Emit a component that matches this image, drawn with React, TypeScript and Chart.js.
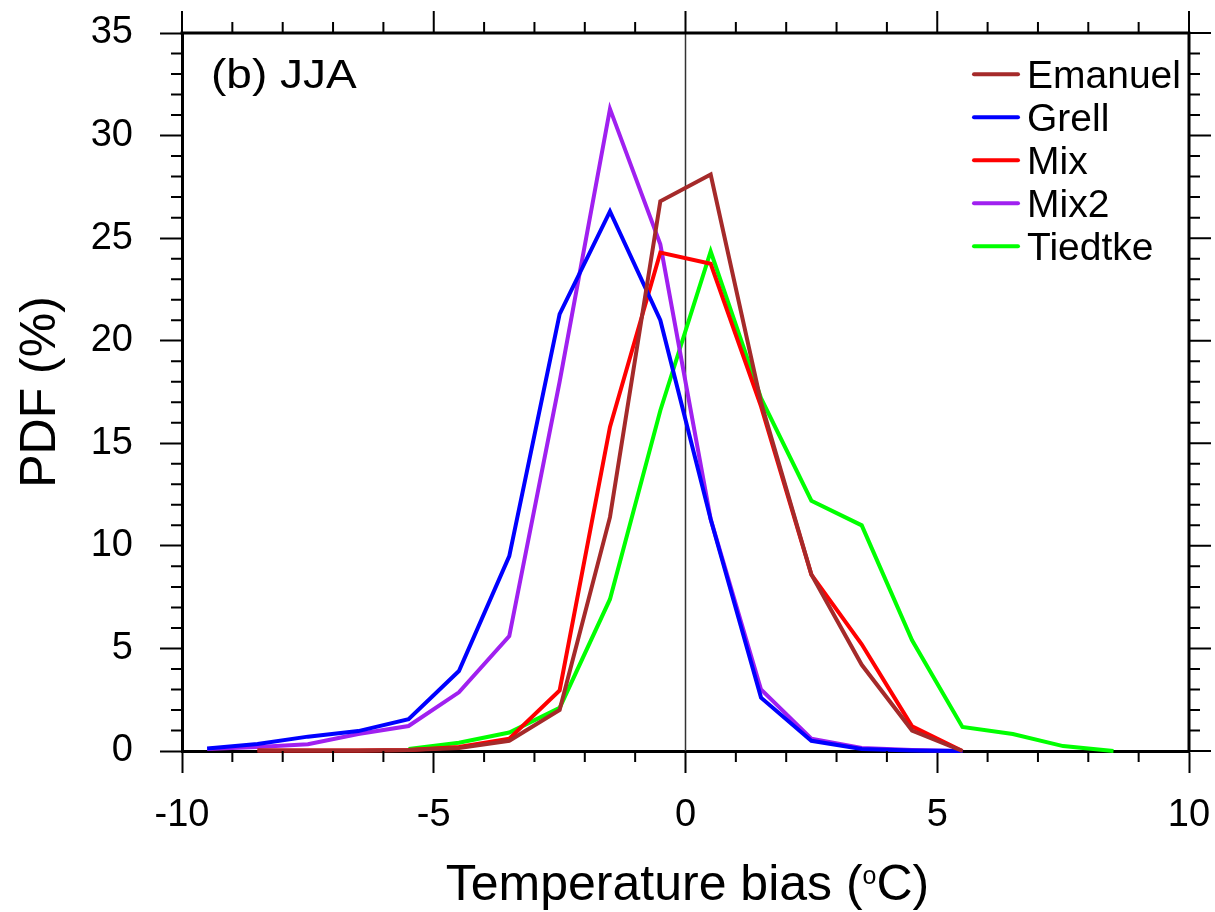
import { useEffect, useRef } from "react";
import { Chart, registerables } from "chart.js";

Chart.register(...registerables);

// ---- data ----
const binCenters = [-9.5, -8.5, -7.5, -6.5, -5.5, -4.5, -3.5, -2.5, -1.5, -0.5, 0.5, 1.5, 2.5, 3.5, 4.5, 5.5, 6.5, 7.5, 8.5];
const seriesNames = ["Emanuel", "Grell", "Mix", "Mix2", "Tiedtke"];
const seriesColors = ["#A52A2A", "#0000FF", "#FF0000", "#A020F0", "#00FF00"];
const emanuel = [null, 0.02, 0.02, 0.03, 0.05, 0.15, 0.5, 2.0, 11.4, 26.8, 28.1, 17.0, 8.6, 4.2, 1.0, 0.0, null, null, null];
const grell = [0.12, 0.34, 0.7, 0.97, 1.55, 3.9, 9.5, 21.3, 26.3, 21.0, 11.3, 2.6, 0.5, 0.1, 0.03, 0.0, null, null, null];
const mix = [null, 0.02, 0.02, 0.03, 0.05, 0.2, 0.6, 2.95, 15.8, 24.3, 23.75, 16.8, 8.6, 5.2, 1.2, 0.0, null, null, null];
const mix2 = [0.1, 0.2, 0.33, 0.83, 1.22, 2.86, 5.6, 18.0, 31.3, 24.7, 11.3, 3.0, 0.6, 0.15, 0.05, 0.0, null, null, null];
const tiedtke = [null, null, null, null, 0.1, 0.4, 0.9, 2.1, 7.4, 16.6, 24.35, 17.2, 12.2, 11.0, 5.4, 1.17, 0.83, 0.24, 0.0];
const xTickValues = [-10, -5, 0, 5, 10];
const yTickValues = [0, 5, 10, 15, 20, 25, 30, 35];
const panelTitle = "(b) JJA";
const xTitleMain = "Temperature bias (";
const xTitleSup = "o";
const xTitleEnd = "C)";
const yTitle = "PDF (%)";
const zeroLineX = 0;

const FONT = '"Liberation Sans", Arial, Helvetica, sans-serif';

const decorPlugin = {
  id: "decor",
  beforeDatasetsDraw(chart: any) {
    const { ctx, chartArea: a, scales } = chart;
    const px = scales.x.getPixelForValue(zeroLineX);
    ctx.save();
    ctx.strokeStyle = "#333";
    ctx.lineWidth = 1.5;
    ctx.beginPath();
    ctx.moveTo(px, a.top);
    ctx.lineTo(px, a.bottom);
    ctx.stroke();
    ctx.restore();
  },
  afterDraw(chart: any) {
    const { ctx, chartArea: a, scales } = chart;
    const xs = scales.x;
    const ys = scales.y;
    ctx.save();
    ctx.strokeStyle = "#000";
    // top and right frame
    ctx.lineWidth = 3;
    ctx.beginPath();
    ctx.moveTo(a.left - 1.5, a.top);
    ctx.lineTo(a.right + 1.5, a.top);
    ctx.moveTo(a.right, a.top - 1.5);
    ctx.lineTo(a.right, a.bottom + 1.5);
    ctx.stroke();
    // ticks
    ctx.lineWidth = 2;
    ctx.beginPath();
    const xmin = xTickValues[0];
    const xmax = xTickValues[xTickValues.length - 1];
    for (let v = xmin; v <= xmax; v++) {
      const p = xs.getPixelForValue(v);
      const major = v % 5 === 0;
      const len = major ? 22 : 11;
      if (!major) {
        ctx.moveTo(p, a.bottom);
        ctx.lineTo(p, a.bottom + len);
      }
      ctx.moveTo(p, a.top);
      ctx.lineTo(p, a.top - len);
    }
    const ymin = yTickValues[0];
    const ymax = yTickValues[yTickValues.length - 1];
    for (let v = ymin; v <= ymax; v++) {
      const p = ys.getPixelForValue(v);
      const major = v % 5 === 0;
      const len = major ? 22 : 11;
      if (!major) {
        ctx.moveTo(a.left, p);
        ctx.lineTo(a.left - len, p);
      }
      ctx.moveTo(a.right, p);
      ctx.lineTo(a.right + len, p);
    }
    ctx.stroke();

    ctx.fillStyle = "#000";
    // panel title
    ctx.save();
    ctx.font = `40px ${FONT}`;
    ctx.textBaseline = "alphabetic";
    ctx.translate(211, 88);
    ctx.scale(1.15, 1);
    ctx.fillText(panelTitle, 0, 0);
    ctx.restore();

    // x title with superscript
    ctx.font = `50px ${FONT}`;
    const w1 = ctx.measureText(xTitleMain).width;
    const w3 = ctx.measureText(xTitleEnd).width;
    ctx.font = `25px ${FONT}`;
    const w2 = ctx.measureText(xTitleSup).width;
    const cx = (a.left + a.right) / 2 + 2;
    let sx = cx - (w1 + w2 + w3) / 2;
    ctx.textBaseline = "alphabetic";
    ctx.textAlign = "left";
    ctx.font = `50px ${FONT}`;
    ctx.fillText(xTitleMain, sx, 900);
    sx += w1;
    ctx.font = `25px ${FONT}`;
    ctx.fillText(xTitleSup, sx, 884);
    sx += w2;
    ctx.font = `50px ${FONT}`;
    ctx.fillText(xTitleEnd, sx, 900);

    // y title
    ctx.save();
    ctx.translate(55, (a.top + a.bottom) / 2);
    ctx.rotate(-Math.PI / 2);
    ctx.textAlign = "center";
    ctx.font = `50px ${FONT}`;
    ctx.fillText(yTitle, 0, 0);
    ctx.restore();

    // legend
    const ds = chart.data.datasets;
    ctx.font = `39px ${FONT}`;
    ctx.textAlign = "left";
    for (let i = 0; i < ds.length; i++) {
      const ry = 74.3 + 43 * i;
      ctx.strokeStyle = ds[i].borderColor;
      ctx.lineWidth = 4;
      ctx.lineCap = "round";
      ctx.beginPath();
      ctx.moveTo(974, ry);
      ctx.lineTo(1018, ry);
      ctx.stroke();
      ctx.fillStyle = "#000";
      ctx.fillText(ds[i].label, 1027, ry + 14);
    }
    ctx.restore();
  },
};

export default function App() {
  const ref = useRef<HTMLCanvasElement | null>(null);
  useEffect(() => {
    document.body.style.margin = "0";
    const all = [emanuel, grell, mix, mix2, tiedtke];
    const datasets = all.map((vals, i) => ({
      label: seriesNames[i],
      data: binCenters
        .map((x, j) => ({ x, y: vals[j] }))
        .filter((p) => p.y !== null),
      borderColor: seriesColors[i],
      backgroundColor: seriesColors[i],
      borderWidth: 4,
      pointRadius: 0,
      tension: 0,
      fill: false,
      clip: false as any,
    }));
    const chart = new Chart(ref.current as HTMLCanvasElement, {
      type: "line",
      data: { datasets: datasets as any },
      options: {
        animation: false,
        responsive: false,
        devicePixelRatio: 1,
        layout: { padding: { left: 0, top: 33, right: 26, bottom: 0 } },
        plugins: { legend: { display: false }, tooltip: { enabled: false } },
        scales: {
          x: {
            type: "linear",
            min: xTickValues[0],
            max: xTickValues[xTickValues.length - 1],
            afterFit: (s: any) => {
              s.height = 161;
              s.paddingLeft = 0;
              s.paddingRight = 0;
              s.paddingTop = 0;
              s.paddingBottom = 0;
            },
            afterBuildTicks: (s: any) => {
              s.ticks = xTickValues.map((v) => ({ value: v }));
            },
            ticks: {
              color: "#000",
              font: { family: FONT, size: 38 },
              padding: 20,
              maxRotation: 0,
              callback: (v: any) => String(v),
            },
            grid: {
              display: true,
              drawOnChartArea: false,
              drawTicks: true,
              tickLength: 22,
              tickWidth: 2,
              tickColor: "#000",
              color: "#000",
            },
            border: { display: true, color: "#000", width: 3 },
          },
          y: {
            type: "linear",
            min: yTickValues[0],
            max: yTickValues[yTickValues.length - 1],
            afterFit: (s: any) => {
              s.width = 182;
              s.paddingLeft = 0;
              s.paddingRight = 0;
              s.paddingTop = 0;
              s.paddingBottom = 0;
            },
            afterBuildTicks: (s: any) => {
              s.ticks = yTickValues.map((v) => ({ value: v }));
            },
            ticks: {
              color: "#000",
              font: { family: FONT, size: 38 },
              padding: 27,
              callback: (v: any) => String(v),
            },
            grid: {
              display: true,
              drawOnChartArea: false,
              drawTicks: true,
              tickLength: 22,
              tickWidth: 2,
              tickColor: "#000",
              color: "#000",
            },
            border: { display: true, color: "#000", width: 3 },
          },
        },
      },
      plugins: [decorPlugin as any],
    });
    return () => chart.destroy();
  }, []);
  return (
    <div style={{ width: 1215, height: 912, background: "#fff" }}>
      <canvas ref={ref} width={1215} height={912} style={{ display: "block" }} />
    </div>
  );
}
